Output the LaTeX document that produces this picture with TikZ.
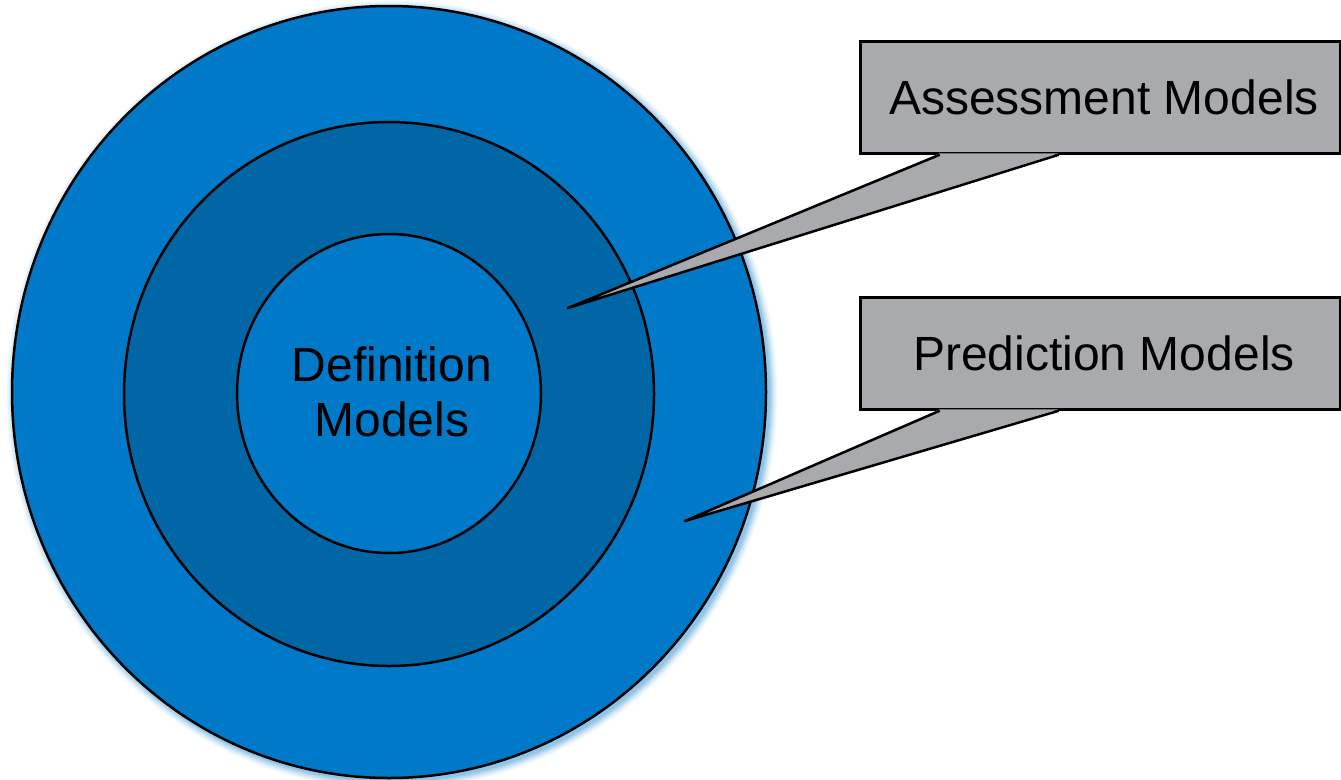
\documentclass[tikz,border=0pt]{standalone}
\usepackage{fontspec}
\setmainfont{Liberation Sans}
\usetikzlibrary{shapes.geometric,calc}
\definecolor{ringblue}{HTML}{0079C9}
\definecolor{darkblue}{HTML}{0066A5}
\definecolor{boxgray}{HTML}{A9AAAD}
\begin{document}
\begin{tikzpicture}[x=1pt,y=-1pt,
  ring/.style={ellipse, draw=black, line width=2.5pt, inner sep=0pt},
  calloutbox/.style={rectangle, draw=black, fill=boxgray, line width=2.5pt,
    minimum width=480pt, minimum height=112pt, inner sep=0pt,
    font=\fontsize{48}{55}\selectfont},
  pointerfill/.style={fill=boxgray},
  pointerline/.style={draw=black, line width=2.5pt, line join=round}]
\useasboundingbox (0,0) rectangle (1341,779);
% soft glow on right/bottom of outer ring
\foreach \i/\o in {1/0.10,2/0.09,3/0.08,4/0.07,5/0.06,6/0.05,7/0.04,8/0.03,9/0.02}{
  \fill[ringblue, opacity=\o] (392,395) ellipse ({377+\i} and {386+\i});
}
\node[ring, fill=ringblue, minimum width=754pt, minimum height=772pt] (outer) at (389,392) {};
\node[ring, fill=darkblue, minimum width=530pt, minimum height=544pt] (middle) at (389,394) {};
\node[ring, fill=ringblue, minimum width=304pt, minimum height=319pt] (inner) at (389,393.5) {};
\node[align=center, font=\fontsize{48}{55}\selectfont] (deflabel) at (392,392) {Definition\\Models};
% callouts
\coordinate (atip) at (568,308);
\coordinate (ptip) at (685,521);
\node[calloutbox] (assess) at (1100.5,97.5) {\hspace*{7pt}Assessment Models};
\node[calloutbox] (pred) at (1100.5,353.5) {\hspace*{7pt}Prediction Models};
\fill[pointerfill] ($(assess.south west)+(80.5,-1.5)$) -- (atip) -- ($(assess.south west)+(199.5,-1.5)$) -- cycle;
\draw[pointerline] ($(assess.south west)+(80.5,0)$) -- (atip) -- ($(assess.south west)+(199.5,0)$);
\fill[pointerfill] ($(pred.south west)+(80.5,-1.5)$) -- (ptip) -- ($(pred.south west)+(199.5,-1.5)$) -- cycle;
\draw[pointerline] ($(pred.south west)+(80.5,0)$) -- (ptip) -- ($(pred.south west)+(199.5,0)$);
\end{tikzpicture}
\end{document}
